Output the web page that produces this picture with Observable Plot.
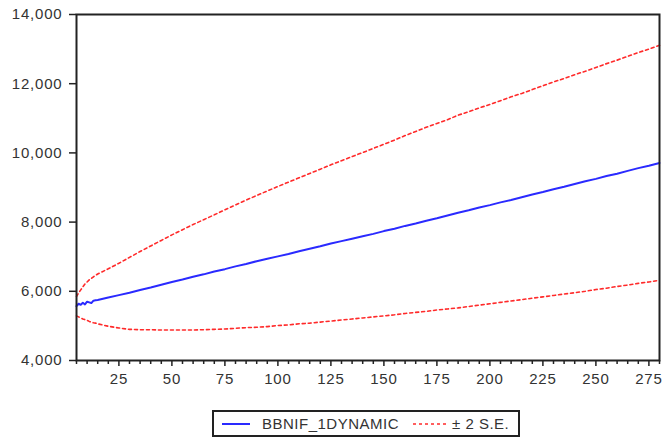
<!DOCTYPE html>
<html><head><meta charset="utf-8">
<script src="https://cdn.jsdelivr.net/npm/d3@7"></script>
<script src="https://cdn.jsdelivr.net/npm/@observablehq/plot@0.6"></script>
<style>
body{margin:0;background:#fff;font-family:"Liberation Sans",Arial,sans-serif;}
#wrap{position:relative;width:663px;height:440px;overflow:hidden;}
#chart svg text{letter-spacing:0.8px;}
#legend{position:absolute;left:212px;top:410px;width:304px;height:23px;border:2px solid #222;box-sizing:content-box;font-size:15px;color:#333;letter-spacing:0.5px;}
#legend .it{position:absolute;top:0;height:23px;line-height:23px;white-space:nowrap;}
#legend svg{position:absolute;top:0;}
</style>
</head><body>
<div id="wrap"><div id="chart"></div>
<div id="legend">
  <svg style="left:8px" width="30" height="23"><line x1="0" x2="28" y1="12" y2="12" stroke="#2a2aff" stroke-width="2"/></svg>
  <span class="it" style="left:48px">BBNIF_1DYNAMIC</span>
  <svg style="left:199px" width="36" height="23"><line x1="0" x2="34" y1="12" y2="12" stroke="#ff2a2a" stroke-width="1.6" stroke-dasharray="3,3"/></svg>
  <span class="it" style="left:238px">± 2 S.E.</span>
</div></div>
<script>
const t = [5,6,7,8,9,10,11,12,13,14,15,20,25,30,35,40,45,50,55,60,65,70,75,80,85,90,95,100,105,110,115,120,125,130,135,140,145,150,155,160,165,170,175,180,185,190,195,200,205,210,215,220,225,230,235,240,245,250,255,260,265,270,275,280];
const forecast = [5570,5640,5610,5670,5620,5700,5680,5660,5730,5740,5750,5820,5890,5960,6040,6110,6190,6270,6340,6420,6490,6570,6640,6720,6790,6870,6940,7010,7080,7160,7230,7300,7380,7450,7520,7590,7660,7740,7810,7890,7960,8040,8110,8190,8270,8340,8420,8490,8570,8640,8720,8800,8870,8950,9020,9100,9180,9250,9330,9400,9480,9560,9630,9710];
const upper = [5850,5950,6040,6130,6210,6270,6330,6370,6420,6460,6500,6650,6810,6980,7150,7310,7470,7630,7780,7930,8070,8210,8355,8495,8635,8770,8900,9030,9155,9280,9405,9530,9655,9775,9895,10010,10130,10250,10370,10500,10620,10740,10850,10960,11090,11190,11300,11400,11510,11620,11720,11830,11940,12050,12150,12260,12360,12470,12580,12680,12790,12900,13000,13110];
const lower = [5290,5260,5230,5200,5180,5160,5130,5110,5090,5080,5060,4990,4940,4900,4890,4890,4880,4880,4880,4880,4890,4900,4910,4930,4950,4960,4980,5010,5030,5060,5080,5110,5140,5170,5200,5230,5260,5290,5320,5360,5390,5420,5460,5490,5520,5560,5600,5640,5680,5720,5760,5800,5840,5880,5920,5960,6000,6050,6090,6140,6180,6230,6270,6320];
const yTicks = [4000,6000,8000,10000,12000,14000];
const xMajor = [25,50,75,100,125,150,175,200,225,250,275];
const xMinor = [5,10,15,20,30,35,40,45,55,60,65,70,80,85,90,95,105,110,115,120,130,135,140,145,155,160,165,170,180,185,190,195,205,210,215,220,230,235,240,245,255,260,265,270,280];

const rows = t.map((v,i)=>({t:v, f:forecast[i], u:upper[i], l:lower[i]}));

const chart = Plot.plot({
  width: 663, height: 400,
  marginLeft: 76, marginRight: 4, marginTop: 14, marginBottom: 40,
  style: {fontSize: "15px", fontFamily: "'Liberation Sans', Arial, sans-serif", color: "#333", background: "#fff"},
  x: {domain: [5, 280]},
  y: {domain: [4000, 14000]},
  marks: [
    Plot.line(rows, {x: "t", y: "u", stroke: "#ff2a2a", strokeWidth: 1.6, strokeDasharray: "3,3"}),
    Plot.line(rows, {x: "t", y: "l", stroke: "#ff2a2a", strokeWidth: 1.6, strokeDasharray: "3,3"}),
    Plot.line(rows, {x: "t", y: "f", stroke: "#2a2aff", strokeWidth: 2}),
    Plot.axisY({ticks: yTicks, tickSize: 7, tickPadding: 7, tickFormat: d3.format(","), stroke: "#222", strokeWidth: 1.5, label: null}),
    Plot.axisX({ticks: xMinor, tickSize: 4, text: null, stroke: "#222", strokeWidth: 1.5, label: null}),
    Plot.axisX({ticks: xMajor, tickSize: 6, tickPadding: 7, stroke: "#222", strokeWidth: 1.5, label: null}),
    Plot.frame({stroke: "#222", strokeWidth: 2})
  ]
});
document.getElementById("chart").appendChild(chart);
</script>
</body></html>
